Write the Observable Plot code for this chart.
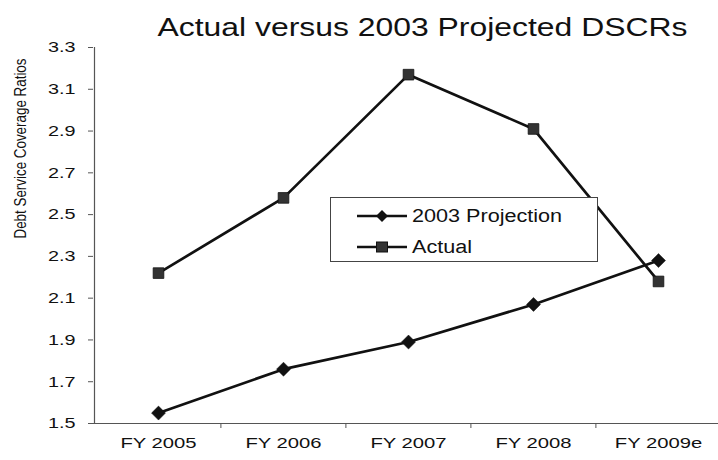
<!DOCTYPE html>
<html>
<head>
<meta charset="utf-8">
<script src="https://cdn.jsdelivr.net/npm/d3@7"></script>
<script src="https://cdn.jsdelivr.net/npm/@observablehq/plot@0.6"></script>
<style>
  html, body { margin: 0; padding: 0; background: #fff; }
  #wrap { position: relative; width: 718px; height: 460px; font-family: "Liberation Sans", Arial, sans-serif; }
  #legend { position: absolute; left: 330px; top: 197px; }
</style>
</head>
<body>
<div id="wrap"></div>
<script>
const years = ["FY 2005", "FY 2006", "FY 2007", "FY 2008", "FY 2009e"];
const projection = [1.55, 1.76, 1.89, 2.07, 2.28];
const actual = [2.22, 2.58, 3.17, 2.91, 2.18];
const seriesNames = ["2003 Projection", "Actual"];
const yTicks = [1.5, 1.7, 1.9, 2.1, 2.3, 2.5, 2.7, 2.9, 3.1, 3.3];
const title = "Actual versus 2003 Projected DSCRs";
const yLabel = "Debt Service Coverage Ratios";

const data = [
  ...years.map((x, i) => ({x, y: projection[i], s: seriesNames[0]})),
  ...years.map((x, i) => ({x, y: actual[i], s: seriesNames[1]}))
];
const proj = data.filter(d => d.s === seriesNames[0]);
const act = data.filter(d => d.s === seriesNames[1]);

const half = 62.6;
const ink = "#111";
const stretch = 1.32;

const chart = Plot.plot({
  width: 718,
  height: 460,
  marginTop: 47,
  marginBottom: 37,
  marginLeft: 93,
  marginRight: 0,
  style: {fontFamily: "'Liberation Sans', Arial, sans-serif", background: "#fff", color: ink},
  x: {type: "point", domain: years, range: [157, 658], padding: 0, label: null},
  y: {domain: [1.5, 3.3], label: null},
  marks: [
    Plot.ruleY([1.5], {stroke: "#555", strokeWidth: 1.2}),
    Plot.ruleX([years[0]], {dx: -64, y1: 1.5, y2: 3.3, stroke: "#555", strokeWidth: 1.2}),
    Plot.ruleX(years.slice(1), {dx: -half, y1: 1.5, y2: 1.5, insetBottom: -5, stroke: "#555"}),
    Plot.axisY({ticks: yTicks, tickSize: 5, tickPadding: 13, tickFormat: d3.format(".1f"), fontSize: 15, stroke: "#555", label: null, className: "yax"}),
    Plot.axisX({tickSize: 0, tickPadding: 14, fontSize: 15, label: null, className: "xax"}),
    Plot.text([title], {frameAnchor: "top", dx: 16.5, dy: -29, fontSize: 25, fill: ink, className: "ttl"}),
    Plot.text([yLabel], {frameAnchor: "left", dx: -73, dy: 3, rotate: -90, fontSize: 16, fill: ink, className: "ylab"}),
    Plot.line(proj, {x: "x", y: "y", stroke: ink, strokeWidth: 2.7}),
    Plot.line(act, {x: "x", y: "y", stroke: ink, strokeWidth: 2.7}),
    Plot.dot(proj, {x: "x", y: "y", symbol: "diamond2", r: 6.3, fill: ink, stroke: ink, strokeWidth: 0.5}),
    Plot.dot(act, {x: "x", y: "y", symbol: "square", r: 6, fill: "#333", stroke: ink, strokeWidth: 0.8})
  ]
});

const wrap = document.getElementById("wrap");
wrap.appendChild(chart);

function stretchText(sel, factor, fixed) {
  chart.querySelectorAll(sel).forEach(t => {
    const len = fixed || t.getComputedTextLength() * factor;
    t.setAttribute("textLength", len);
    t.setAttribute("lengthAdjust", "spacingAndGlyphs");
  });
}
stretchText(".yax text", stretch);
stretchText(".xax text", 1.35);
stretchText(".ttl text", 1, 530);
stretchText(".ylab text", 1, 180);

// legend
const ns = "http://www.w3.org/2000/svg";
const lg = document.createElementNS(ns, "svg");
lg.setAttribute("id", "legend");
lg.setAttribute("width", 268);
lg.setAttribute("height", 65);
lg.style.fontFamily = "'Liberation Sans', Arial, sans-serif";
let html = '<rect x="0.5" y="0.5" width="267" height="64" fill="#fff" stroke="#444" stroke-width="1"/>';
const symbols = [
  cy => `<polygon points="52,${cy - 6} 58,${cy} 52,${cy + 6} 46,${cy}" fill="${ink}"/>`,
  cy => `<rect x="46.5" y="${cy - 5}" width="11" height="10" fill="#333" stroke="${ink}"/>`
];
seriesNames.forEach((name, i) => {
  const cy = 19 + i * 31;
  html += `<line x1="27" x2="77" y1="${cy}" y2="${cy}" stroke="${ink}" stroke-width="2.7"/>`;
  html += symbols[i](cy);
  html += `<text x="82" y="${cy}" dy="0.35em" font-size="18" fill="${ink}" class="lgt">${name}</text>`;
});
lg.innerHTML = html;
wrap.appendChild(lg);
lg.querySelectorAll(".lgt").forEach(t => {
  t.setAttribute("textLength", t.getComputedTextLength() * 1.2);
  t.setAttribute("lengthAdjust", "spacingAndGlyphs");
});
</script>
</body>
</html>
